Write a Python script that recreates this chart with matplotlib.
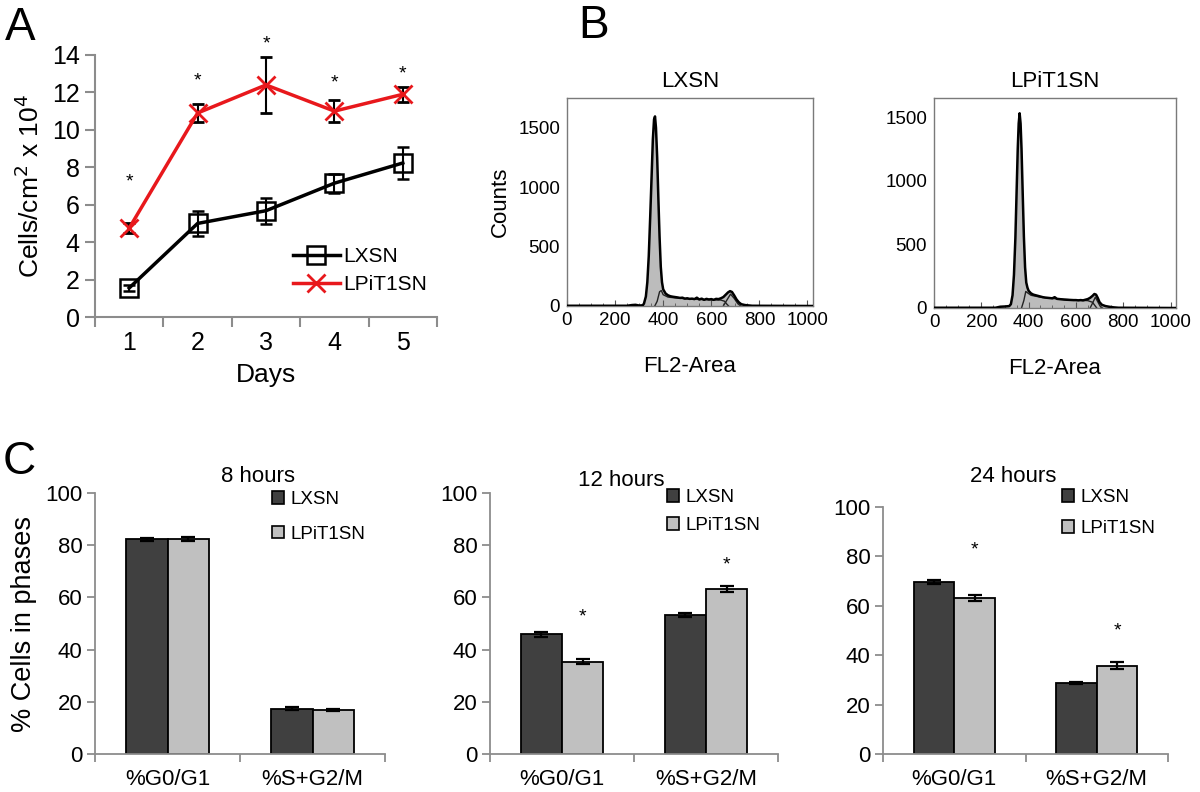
import matplotlib
matplotlib.use('Agg')
import matplotlib.pyplot as plt
from matplotlib.patches import Patch
from matplotlib.lines import Line2D
from matplotlib.ticker import MultipleLocator, FixedLocator

plt.rcParams['font.family'] = ['Liberation Sans', 'DejaVu Sans']

# ---------------- data ----------------
# Panel A: growth curve
days = [1, 2, 3, 4, 5]
lxsn_growth = [1.55, 5.0, 5.68, 7.15, 8.23]
lxsn_growth_err = [0.15, 0.65, 0.7, 0.5, 0.85]
lpit_growth = [4.75, 10.9, 12.4, 11.0, 11.9]
lpit_growth_err = [0.25, 0.48, 1.5, 0.6, 0.4]
growth_star_y = [7.2, 12.6, 14.6, 12.5, 13.0]

# Panel B: DNA histograms (channel, counts)
lxsn_ch = [0, 250, 270, 285, 300, 315, 320, 328, 334, 340, 346, 352, 357, 362, 366, 370, 375,
           380, 385, 390, 395, 400, 410, 420, 430, 440, 450, 460, 470, 480, 490, 500, 510, 520,
           530, 540, 550, 560, 570, 580, 590, 600, 610, 620, 630, 640, 650, 660, 670, 678, 686,
           695, 705, 715, 725, 740, 755, 770, 1023]
lxsn_counts = [2, 2, 8, 10, 4, 6, 20, 80, 200, 420, 750, 1100, 1400, 1570, 1595, 1500, 1250,
               900, 580, 330, 200, 140, 105, 90, 82, 78, 75, 72, 68, 70, 62, 65, 60, 62,
               58, 70, 55, 62, 52, 60, 55, 58, 52, 60, 58, 65, 75, 95, 115, 125, 118,
               90, 55, 30, 15, 8, 5, 2, 0]
lxsn_s_ch = [365, 375, 385, 392, 400, 420, 450, 500, 550, 600, 640, 655, 665, 672]
lxsn_s_counts = [0, 40, 120, 130, 95, 75, 68, 60, 55, 52, 50, 40, 15, 0]
lxsn_g2_ch = [650, 665, 680, 695, 710, 722]
lxsn_g2_counts = [0, 50, 100, 65, 20, 0]

lpit_ch = [0, 260, 280, 300, 318, 325, 332, 338, 344, 349, 354, 358, 362, 366, 370, 375, 380,
           385, 390, 395, 400, 410, 420, 430, 440, 450, 460, 470, 480, 490, 500, 510, 520, 530,
           540, 550, 560, 570, 580, 590, 600, 610, 620, 630, 640, 650, 660, 670, 678, 685, 692,
           700, 710, 725, 740, 760, 780, 1023]
lpit_counts = [2, 2, 10, 12, 15, 30, 100, 260, 550, 900, 1250, 1450, 1530, 1450, 1250, 900, 560,
               320, 200, 160, 135, 115, 105, 100, 95, 90, 85, 82, 80, 78, 76, 85, 72, 70,
               68, 66, 65, 64, 63, 62, 62, 60, 62, 60, 65, 70, 80, 95, 110, 105, 80,
               45, 25, 15, 10, 5, 2, 0]
lpit_s_ch = [370, 380, 388, 395, 410, 450, 500, 550, 600, 650, 670, 680, 688]
lpit_s_counts = [0, 60, 130, 120, 100, 85, 75, 68, 62, 58, 45, 20, 0]
lpit_g2_ch = [660, 672, 682, 692, 702, 712]
lpit_g2_counts = [0, 45, 85, 50, 15, 0]

# Panel C: cell cycle phases
phases = ['%G0/G1', '%S+G2/M']
time_titles = ['8 hours', '12 hours', '24 hours']
lxsn_phase = [[82.2, 17.4], [45.8, 53.3], [69.7, 28.7]]
lxsn_phase_err = [[0.5, 0.5], [0.8, 0.8], [0.7, 0.5]]
lpit_phase = [[82.4, 16.9], [35.3, 63.2], [63.0, 35.8]]
lpit_phase_err = [[0.6, 0.3], [1.0, 1.0], [1.2, 1.4]]
phase_stars = [[None, None], [52.4, 72.5], [82.5, 49.9]]

# ---------------- layout helpers ----------------
W, H = 1200, 792
fig = plt.figure(figsize=(12, 7.92), dpi=100)


def ax_px(l, t, r, b):
    return fig.add_axes([l / W, 1 - b / H, (r - l) / W, (b - t) / H])


def fx(x):
    return x / W


def fy(y):
    return 1 - y / H


GRAY = '#8c8c8c'
RED = '#e8181c'

# ---------------- Panel A ----------------
axA = ax_px(95, 55, 437, 317)
axA.errorbar(days, lxsn_growth, yerr=lxsn_growth_err, color='black', lw=2.5,
             marker='s', ms=13, mfc='none', mec='black', mew=1.8,
             ecolor='black', elinewidth=1.5, capsize=4, capthick=1.5, zorder=3)
axA.errorbar(days, lpit_growth, yerr=lpit_growth_err, color=RED, lw=2.5,
             marker='x', ms=13, mew=2.0, mec=RED,
             ecolor='black', elinewidth=1.5, capsize=4, capthick=1.5, zorder=3)
for d, sy in zip(days, growth_star_y):
    axA.text(d, sy, '*', ha='center', va='center', fontsize=14, clip_on=False)
axA.set_xlim(0.5, 5.5)
axA.set_ylim(0, 14)
axA.set_yticks(range(0, 15, 2))
axA.set_xticks(days)
axA.xaxis.set_minor_locator(FixedLocator([0.5, 1.5, 2.5, 3.5, 4.5, 5.5]))
axA.tick_params(axis='x', which='major', length=0, labelsize=18, pad=10)
axA.tick_params(axis='x', which='minor', length=7, width=1.5, color=GRAY, direction='out')
axA.tick_params(axis='y', which='major', length=7, width=1.5, color=GRAY, direction='out',
                labelsize=18, pad=4)
for s in ['top', 'right']:
    axA.spines[s].set_visible(False)
for s in ['left', 'bottom']:
    axA.spines[s].set_color(GRAY)
    axA.spines[s].set_linewidth(1.5)
axA.set_xlabel('Days', fontsize=19, labelpad=6)
axA.set_ylabel('Cells/cm$^2$ x 10$^4$', fontsize=19, labelpad=6)
handlesA = [Line2D([], [], color='black', lw=2.5, marker='s', ms=13, mfc='none', mec='black',
                   mew=1.8, label='LXSN'),
            Line2D([], [], color=RED, lw=2.5, marker='x', ms=13, mew=2.0, mec=RED,
                   label='LPiT1SN')]
axA.legend(handles=handlesA, loc='upper left', bbox_to_anchor=(fx(293), fy(247)),
           bbox_transform=fig.transFigure, frameon=False, fontsize=15,
           handlelength=2.25, handletextpad=0.15, labelspacing=0.45, borderpad=0,
           borderaxespad=0)
fig.text(fx(5), fy(28), 'A', fontsize=33, va='center', ha='left')

# ---------------- Panel B ----------------
def hist_panel(rect, ch, counts, s_ch, s_counts, g2_ch, g2_counts, ymax, title, show_ylabel):
    ax = ax_px(*rect)
    ax.fill_between(ch, counts, 0, color='#bcbcbc', lw=0, zorder=1)
    ax.plot(ch, counts, color='black', lw=1.8, zorder=3)
    ax.plot(s_ch, s_counts, color='#222222', lw=1.0, zorder=2)
    ax.plot(g2_ch, g2_counts, color='#222222', lw=1.0, zorder=2)
    ax.set_xlim(0, 1023)
    ax.set_ylim(0, ymax)
    ax.set_xticks([0, 200, 400, 600, 800, 1000])
    ax.xaxis.set_minor_locator(MultipleLocator(50))
    ax.set_yticks([0, 500, 1000, 1500])
    ax.tick_params(axis='x', which='major', direction='in', length=4, color='#555555',
                   labelsize=13.5, pad=4)
    ax.tick_params(axis='x', which='minor', direction='in', length=2.5, color='#555555')
    ax.tick_params(axis='y', which='major', direction='in', length=0, labelsize=13.5, pad=5)
    for s in ax.spines.values():
        s.set_color('#7a7a7a')
        s.set_linewidth(1.0)
    ax.set_title(title, fontsize=16, pad=8)
    ax.set_xlabel('FL2-Area', fontsize=16, labelpad=20)
    if show_ylabel:
        ax.set_ylabel('Counts', fontsize=16, labelpad=5)
    return ax


hist_panel((567, 98, 813, 306), lxsn_ch, lxsn_counts, lxsn_s_ch, lxsn_s_counts,
           lxsn_g2_ch, lxsn_g2_counts, 1750, 'LXSN', True)
hist_panel((934, 98, 1176, 308), lpit_ch, lpit_counts, lpit_s_ch, lpit_s_counts,
           lpit_g2_ch, lpit_g2_counts, 1650, 'LPiT1SN', False)
fig.text(fx(578), fy(26), 'B', fontsize=33, va='center', ha='left')

# ---------------- Panel C ----------------
rectsC = [(95, 493, 385, 754), (490, 493, 778, 754), (883, 507, 1168, 754)]
title_pos = [(258, 477), (621, 480), (1013, 477)]
leg_pos = [(272, 491), (667, 489), (1062, 489)]
leg_spacing = [0.95, 0.6, 0.75]
DARK = '#404040'
LIGHT = '#c0c0c0'
bw = 0.285
xs = [0, 1]
for i in range(3):
    ax = ax_px(*rectsC[i])
    ax.bar([x - bw / 2 for x in xs], lxsn_phase[i], width=bw, color=DARK, edgecolor='black',
           lw=1.3, yerr=lxsn_phase_err[i], capsize=5,
           error_kw=dict(elinewidth=1.6, capthick=1.6, ecolor='black'), zorder=2)
    ax.bar([x + bw / 2 for x in xs], lpit_phase[i], width=bw, color=LIGHT, edgecolor='black',
           lw=1.3, yerr=lpit_phase_err[i], capsize=5,
           error_kw=dict(elinewidth=1.6, capthick=1.6, ecolor='black'), zorder=2)
    for x, sy in zip(xs, phase_stars[i]):
        if sy is not None:
            ax.text(x + bw / 2, sy, '*', ha='center', va='center', fontsize=14)
    ax.set_xlim(-0.5, 1.5)
    ax.set_ylim(0, 100)
    ax.set_yticks(range(0, 101, 20))
    ax.set_xticks(xs)
    ax.set_xticklabels(phases)
    ax.xaxis.set_minor_locator(FixedLocator([-0.5, 0.5, 1.5]))
    ax.tick_params(axis='x', which='major', length=0, labelsize=16, pad=11)
    ax.tick_params(axis='x', which='minor', length=6, width=1.3, color=GRAY, direction='out')
    ax.tick_params(axis='y', which='major', length=6, width=1.3, color=GRAY, direction='out',
                   labelsize=16, pad=3)
    for s in ['top', 'right']:
        ax.spines[s].set_visible(False)
    for s in ['left', 'bottom']:
        ax.spines[s].set_color(GRAY)
        ax.spines[s].set_linewidth(1.3)
    fig.text(fx(title_pos[i][0]), fy(title_pos[i][1]), time_titles[i], fontsize=16,
             ha='center', va='center')
    handles = [Patch(facecolor=DARK, edgecolor='black', lw=1.2, label='LXSN'),
               Patch(facecolor=LIGHT, edgecolor='black', lw=1.2, label='LPiT1SN')]
    ax.legend(handles=handles, loc='upper left',
              bbox_to_anchor=(fx(leg_pos[i][0]), fy(leg_pos[i][1])),
              bbox_transform=fig.transFigure, frameon=False, fontsize=13.5,
              handlelength=0.65, handleheight=0.65, handletextpad=0.35,
              labelspacing=leg_spacing[i], borderpad=0, borderaxespad=0)
    if i == 0:
        ax.set_ylabel('% Cells in phases', fontsize=19.5, labelpad=6)

fig.text(fx(3), fy(462), 'C', fontsize=33, va='center', ha='left')

fig.savefig('out.png', dpi=100, facecolor='white')
